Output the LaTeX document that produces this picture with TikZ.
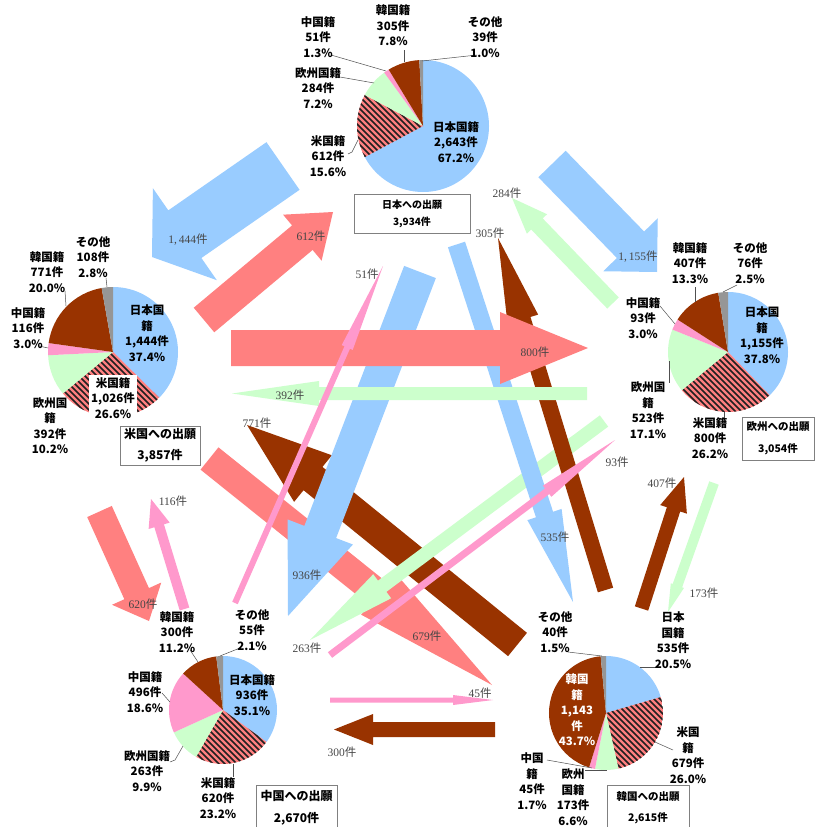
\documentclass[tikz,border=0pt]{standalone}
\usepackage{fontspec}
\setmainfont{Noto Sans CJK JP}
\newfontfamily\serifd{Liberation Serif}
\usetikzlibrary{calc}
\definecolor{jpblue}{HTML}{99CCFF}
\definecolor{usred}{HTML}{FF8080}
\definecolor{eugreen}{HTML}{CCFFCC}
\definecolor{cnpink}{HTML}{FF99CC}
\definecolor{krbrown}{HTML}{993300}
\definecolor{othgray}{HTML}{969696}
\definecolor{hatchc}{HTML}{202020}
\definecolor{labgray}{HTML}{454545}
\definecolor{leadgray}{HTML}{505050}
\definecolor{boxgray}{HTML}{808080}
\tikzset{
  plab/.style={align=center, font=\bfseries\fontsize{11.5}{15.5}\selectfont, inner sep=0pt},
  alab/.style={font=\fontsize{11.5}{13}\selectfont, text=labgray, inner sep=0pt},
  lead/.style={draw=leadgray, line width=0.5pt},
  boxst/.style={draw=boxgray, line width=0.8pt, fill=white, align=center, inner sep=0pt},
}
\newcommand{\akn}[1]{{\serifd #1}件}
\newcommand{\pslice}[5]{\fill[#5] (#1) -- ++(#3:#2) arc[start angle=#3, end angle=#4, radius=#2] -- cycle;}
\newcommand{\hslice}[4]{%
  \begin{scope}
    \clip (#1) -- ++(#3:#2) arc[start angle=#3, end angle=#4, radius=#2] -- cycle;
    \fill[usred] (#1) circle[radius=#2];
    \foreach \k in {-160,-154,...,160}{\draw[hatchc, line width=1.7pt, shift={(#1)}] (\k-110,-110) -- (\k+110,110);}
  \end{scope}}
\newcommand{\barw}[6]{%
  \path ($(#3)!#6pt!(#2)$) coordinate (hb);
  \fill[#1] ($(#2)!#4pt!90:(#3)$) -- ($(hb)!#4pt!90:(#3)$) -- ($(hb)!#5pt!90:(#3)$) -- (#3)
     -- ($(hb)!#5pt!-90:(#3)$) -- ($(hb)!#4pt!-90:(#3)$) -- ($(#2)!#4pt!-90:(#3)$) -- cycle;}
\begin{document}
\begin{tikzpicture}[x=1pt,y=-1pt]
\useasboundingbox (0,0) rectangle (815,827);
\fill[white] (0,0) rectangle (815,827);

% ---------- Japan pie ----------
\coordinate (pjp) at (423,126);
\pslice{pjp}{66}{-90}{151.92}{jpblue}
\hslice{pjp}{66}{151.92}{208.08}
\pslice{pjp}{66}{208.08}{234}{eugreen}
\pslice{pjp}{66}{234}{238.68}{cnpink}
\pslice{pjp}{66}{238.68}{266.76}{krbrown}
\pslice{pjp}{66}{266.76}{270}{othgray}
\draw[lead] (404,50) -- (404,62);
\draw[lead] (331,55) -- (386,71);
\draw[lead] (340,77) -- (374,83);
\draw[lead] (477,55) -- (422,61);
\draw[lead] (348,154) -- (352,152) -- (358,140);
\node[plab] (jpkr) at (393,25.5) {韓国籍\\305件\\7.8\%};
\node[plab] (jpcn) at (318,37) {中国籍\\51件\\1.3\%};
\node[plab] (jpot) at (485,37) {その他\\39件\\1.0\%};
\node[plab] (jpeu) at (318,88) {欧州国籍\\284件\\7.2\%};
\node[plab] (jpus) at (328,156) {米国籍\\612件\\15.6\%};
\node[plab] (jpjp) at (456,142) {日本国籍\\2,643件\\67.2\%};
\node[boxst, minimum width=116pt, minimum height=39pt, font=\bfseries\fontsize{10}{17}\selectfont] (jpbox) at (412,213.5) {日本への出願\\3,934件};

% ---------- US pie ----------
\coordinate (pus) at (113,352);
\pslice{pus}{65}{-90}{44.64}{jpblue}
\hslice{pus}{65}{44.64}{140.4}
\pslice{pus}{65}{140.4}{177.12}{eugreen}
\pslice{pus}{65}{177.12}{187.92}{cnpink}
\pslice{pus}{65}{187.92}{259.92}{krbrown}
\pslice{pus}{65}{259.92}{270}{othgray}
\draw[lead] (106,278) -- (107,287);
\draw[lead] (65,291) -- (66,306);
\draw[lead] (39,346) -- (48,348);
\node[plab] (usot) at (93,257) {その他\\108件\\2.8\%};
\node[plab] (uskr) at (47,272) {韓国籍\\771件\\20.0\%};
\node[plab] (uscn) at (28,328) {中国籍\\116件\\3.0\%};
\node[plab] (useu) at (50,425.5) {欧州国\\籍\\392件\\10.2\%};
\node[plab, fill=white, inner sep=2pt] (usus) at (113,398) {米国籍\\1,026件\\26.6\%};
\node[plab] (usjp) at (147,333) {日本国\\籍\\1,444件\\37.4\%};
\node[boxst, minimum width=80pt, minimum height=39pt, font=\bfseries\fontsize{12}{21}\selectfont] (usbox) at (160,445.5) {米国への出願\\3,857件};

% ---------- Europe pie ----------
\coordinate (peu) at (728,352);
\pslice{peu}{60}{-90}{46.08}{jpblue}
\hslice{peu}{60}{46.08}{140.4}
\pslice{peu}{60}{140.4}{201.96}{eugreen}
\pslice{peu}{60}{201.96}{212.76}{cnpink}
\pslice{peu}{60}{212.76}{260.64}{krbrown}
\pslice{peu}{60}{260.64}{270}{othgray}
\draw[lead] (695,287) -- (695,302);
\draw[lead] (737,285) -- (723,292);
\draw[lead] (660,306) -- (675,324);
\draw[lead] (669,361) -- (669,383);
\draw[lead] (724,412) -- (724,419);
\node[plab] (eukr) at (690,263) {韓国籍\\407件\\13.3\%};
\node[plab] (euot) at (750,263) {その他\\76件\\2.5\%};
\node[plab] (eucn) at (643,318) {中国籍\\93件\\3.0\%};
\node[plab] (eueu) at (648,410) {欧州国\\籍\\523件\\17.1\%};
\node[plab] (euus) at (710,438) {米国籍\\800件\\26.2\%};
\node[plab] (eujp) at (762,335) {日本国\\籍\\1,155件\\37.8\%};
\node[boxst, minimum width=72pt, minimum height=43pt, font=\bfseries\fontsize{10.5}{22}\selectfont] (eubox) at (778,438.5) {欧州への出願\\3,054件};

% ---------- China pie ----------
\coordinate (pcn) at (223,710);
\pslice{pcn}{54}{-90}{36.36}{jpblue}
\hslice{pcn}{54}{36.36}{119.88}
\pslice{pcn}{54}{119.88}{155.52}{eugreen}
\pslice{pcn}{54}{155.52}{222.48}{cnpink}
\pslice{pcn}{54}{222.48}{262.8}{krbrown}
\pslice{pcn}{54}{262.8}{270}{othgray}
\draw[lead] (190,650) -- (198,662);
\draw[lead] (240,648) -- (220,656);
\draw[lead] (162,693) -- (170,702);
\draw[lead] (170,762) -- (175,760) -- (183,746);
\draw[lead] (233,764) -- (233,777);
\node[plab] (cnkr) at (177,632) {韓国籍\\300件\\11.2\%};
\node[plab] (cnot) at (252,630) {その他\\55件\\2.1\%};
\node[plab] (cncn) at (145,692) {中国籍\\496件\\18.6\%};
\node[plab] (cneu) at (147,771) {欧州国籍\\263件\\9.9\%};
\node[plab] (cnus) at (218,798) {米国籍\\620件\\23.2\%};
\node[plab] (cnjp) at (252,695) {日本国籍\\936件\\35.1\%};
\node[boxst, minimum width=81pt, minimum height=45pt, font=\bfseries\fontsize{12}{22}\selectfont] (cnbox) at (296.5,807.5) {中国への出願\\2,670件};

% ---------- Korea pie ----------
\coordinate (pkr) at (606,713);
\pslice{pkr}{57}{-90}{-16.2}{jpblue}
\hslice{pkr}{57}{-16.2}{77.4}
\pslice{pkr}{57}{77.4}{101.16}{eugreen}
\pslice{pkr}{57}{101.16}{107.28}{cnpink}
\pslice{pkr}{57}{107.28}{264.6}{krbrown}
\pslice{pkr}{57}{264.6}{270}{othgray}
\draw[lead] (568,652) -- (602,656);
\draw[lead] (640,667) -- (658,667);
\draw[lead] (655,742) -- (673,750);
\draw[lead] (547,760) -- (592,768);
\draw[lead] (585,770) -- (607,770);
\node[plab] (krot) at (555,632) {その他\\40件\\1.5\%};
\node[plab] (krjp) at (673,640) {日本\\国籍\\535件\\20.5\%};
\node[plab] (krus) at (688,755) {米国\\籍\\679件\\26.0\%};
\node[plab] (krcn) at (532,781) {中国\\籍\\45件\\1.7\%};
\node[plab] (kreu) at (573,797) {欧州\\国籍\\173件\\6.6\%};
\node[plab, text=white] (krkr) at (577,710) {韓国\\籍\\1,143\\件\\43.7\%};
\node[boxst, minimum width=82pt, minimum height=45pt, font=\bfseries\fontsize{10.5}{21}\selectfont] (krbox) at (648,807.5) {韓国への出願\\2,615件};

% ---------- flow arrows ----------
\coordinate (jpus-s) at (283,166);   \coordinate (jpus-e) at (152,257);
\coordinate (usjp-s) at (204,320);   \coordinate (usjp-e) at (333,212);
\coordinate (eujp-s) at (613,303);   \coordinate (eujp-e) at (512,198);
\coordinate (jpeu-s) at (552,164);   \coordinate (jpeu-e) at (657,272);
\coordinate (jpcn-s) at (420,272);   \coordinate (jpcn-e) at (288,616);
\coordinate (jpkr-s) at (456.5,244.5); \coordinate (jpkr-e) at (573,602);
\coordinate (useu-s) at (231,348);   \coordinate (useu-e) at (588,348);
\coordinate (euus-s) at (587,393.5); \coordinate (euus-e) at (232,393.5);
\coordinate (krjp-s) at (605.5,590); \coordinate (krjp-e) at (498,238);
\coordinate (kreu-s) at (641.5,608.5); \coordinate (kreu-e) at (684,477);
\coordinate (eukr-s) at (714,483);   \coordinate (eukr-e) at (668,612);
\coordinate (eucn-s) at (604,421);   \coordinate (eucn-e) at (310,640);
\coordinate (cneu-s) at (330,655);   \coordinate (cneu-e) at (615,440);
\coordinate (cnjp-s) at (235,603);   \coordinate (cnjp-e) at (383,266);
\coordinate (cnus-s) at (184.5,609); \coordinate (cnus-e) at (151,499);
\coordinate (uscn-s) at (99.5,511.5); \coordinate (uscn-e) at (149,621);
\coordinate (uskr-s) at (209.5,458.5); \coordinate (uskr-e) at (492,685);
\coordinate (krus-s) at (517.5,644.5); \coordinate (krus-e) at (247,425);
\coordinate (cnkr-s) at (330,700);   \coordinate (cnkr-e) at (493,700);
\coordinate (krcn-s) at (495,729.5); \coordinate (krcn-e) at (334,729.5);

\barw{usred}{uskr-s}{uskr-e}{14.3}{27}{146}
\barw{krbrown}{krus-s}{krus-e}{15}{30}{85}
\barw{eugreen}{eucn-s}{eucn-e}{7}{15}{90}
\barw{jpblue}{jpcn-s}{jpcn-e}{17}{35}{90}
\barw{jpblue}{jpkr-s}{jpkr-e}{9}{18}{92}
\barw{krbrown}{krjp-s}{krjp-e}{8}{16}{85}
\barw{usred}{useu-s}{useu-e}{18}{36}{88}
\barw{eugreen}{euus-s}{euus-e}{6.5}{12.5}{87}
\barw{cnpink}{cnjp-s}{cnjp-e}{3}{6}{89}
\barw{cnpink}{cneu-s}{cneu-e}{3.5}{7}{85}
\barw{jpblue}{jpus-s}{jpus-e}{29}{56}{40}
\barw{usred}{usjp-s}{usjp-e}{16}{30}{40}
\barw{eugreen}{eujp-s}{eujp-e}{8}{14}{36}
\barw{jpblue}{jpeu-s}{jpeu-e}{19}{38}{38}
\barw{krbrown}{kreu-s}{kreu-e}{7}{14}{34}
\barw{eugreen}{eukr-s}{eukr-e}{5}{7}{28}
\barw{cnpink}{cnus-s}{cnus-e}{5}{11}{28}
\barw{usred}{uscn-s}{uscn-e}{13.5}{27}{30}
\barw{cnpink}{cnkr-s}{cnkr-e}{2.5}{5}{40}
\barw{krbrown}{krcn-s}{krcn-e}{7.5}{15.5}{39}

% ---------- arrow labels ----------
\node[alab] (l1444) at (188,240) {\akn{1,\kern2pt 444}};
\node[alab] (l612) at (311,236) {\akn{612}};
\node[alab] (l284) at (507,193) {\akn{284}};
\node[alab] (l1155) at (638,257) {\akn{1,\kern2pt 155}};
\node[alab] (l936) at (307,575) {\akn{936}};
\node[alab] (l535) at (555,537) {\akn{535}};
\node[alab] (l800) at (535,352) {\akn{800}};
\node[alab] (l392) at (290,395) {\akn{392}};
\node[alab] (l305) at (490,233) {\akn{305}};
\node[alab] (l407) at (662,483) {\akn{407}};
\node[alab] (l173) at (704,593) {\akn{173}};
\node[alab] (l263) at (307,648) {\akn{263}};
\node[alab] (l93) at (617,462) {\akn{93}};
\node[alab] (l51) at (367,274) {\akn{51}};
\node[alab] (l116) at (173,501) {\akn{116}};
\node[alab] (l620) at (143,604) {\akn{620}};
\node[alab] (l679) at (427,636) {\akn{679}};
\node[alab] (l771) at (257,423) {\akn{771}};
\node[alab] (l45) at (480,693) {\akn{45}};
\node[alab] (l300) at (342,752) {\akn{300}};
\end{tikzpicture}
\end{document}
